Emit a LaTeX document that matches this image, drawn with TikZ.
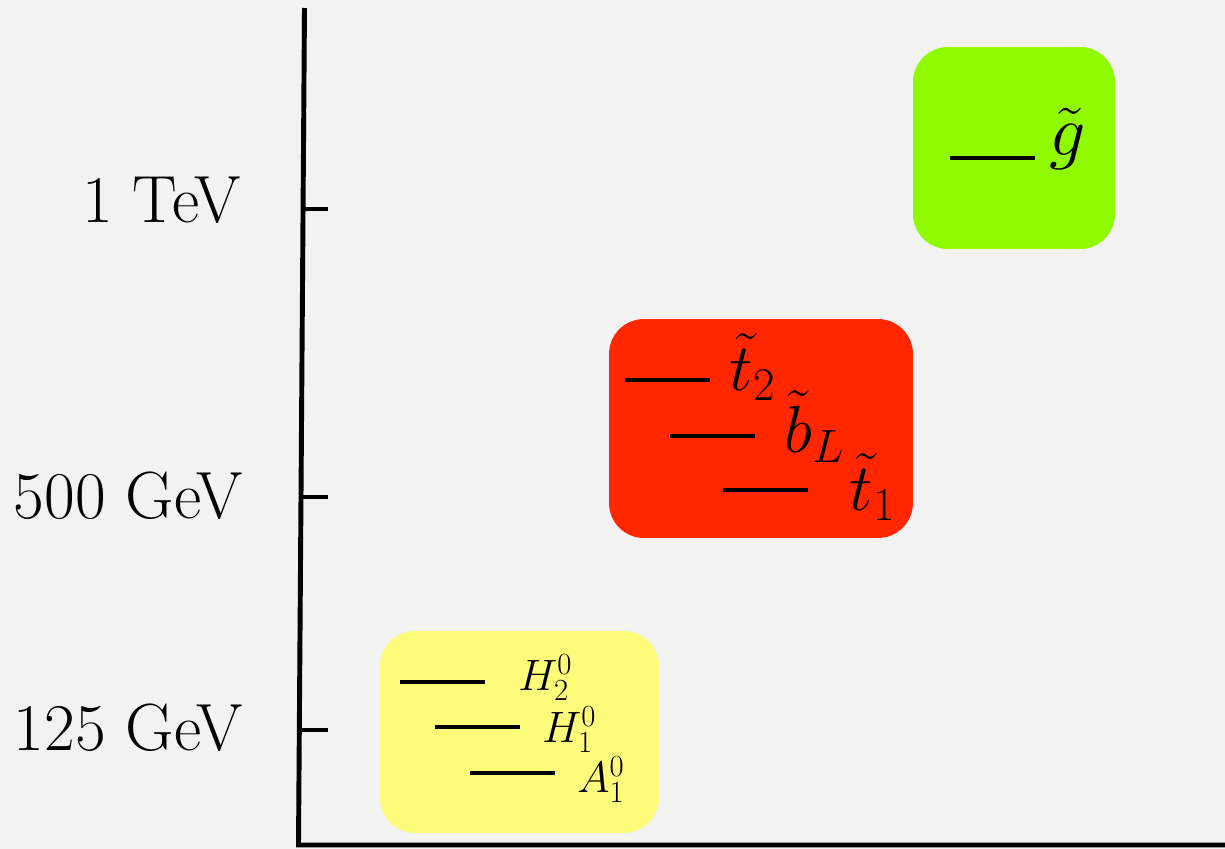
\documentclass[tikz,border=0pt]{standalone}
\usepackage{fix-cm}
\usepackage{tikz}
\usetikzlibrary{positioning}
\definecolor{paper}{RGB}{242,242,242}
\definecolor{gluinogreen}{RGB}{143,250,0}
\definecolor{stopred}{RGB}{255,38,0}
\definecolor{higgsyellow}{RGB}{255,251,122}

\begin{document}
\begin{tikzpicture}[x=0.02cm, y=-0.02cm, line width=2.8pt,
    box/.style={rounded corners=0.7cm, inner sep=0pt},
    lvl/.style={line width=2.8pt},
    mass/.style={anchor=base east, inner sep=0pt, font=\fontsize{38}{42}\selectfont},
    spart/.style={anchor=base west, inner sep=0pt}]
  \fill[paper] (0,0) rectangle (1225,849);
  \useasboundingbox (0,0) rectangle (1225,849);

  % axes
  \coordinate (top) at (304.5,8);
  \coordinate (org) at (298.5,845);
  \coordinate (rgt) at (1225,845);
  \draw (top) -- (org) -- (rgt);

  % ticks and scale
  \coordinate (t1) at (303.1,209);
  \coordinate (t2) at (301.0,497);
  \coordinate (t3) at (299.3,730);
  \draw (t1) -- ++(25,0);
  \draw (t2) -- ++(27,0);
  \draw (t3) -- ++(29,0);
  \node[mass] (tev) at (243,222) {1 TeV};
  \node[mass] (gev5) at (245,518) {500 GeV};
  \node[mass] (gev1) at (245,750) {125 GeV};

  % gluino
  \node[box, fill=gluinogreen, minimum width=4.04cm, minimum height=4.04cm] (gl) at (1014,148) {};
  \draw[lvl] (950,158) -- (1035,158);
  \node[spart, font=\fontsize{41}{45}\selectfont] (glab) at (1047,155) {$\tilde{g}$};

  % third generation squarks
  \node[box, fill=stopred, minimum width=6.08cm, minimum height=4.38cm] (sq) at (761,428.5) {};
  \draw[lvl] (625,380) -- (710,380);
  \draw[lvl] (670,436) -- (755,436);
  \draw[lvl] (723,490) -- (808,490);
  \node[spart, font=\fontsize{38}{42}\selectfont] (st2) at (727,390) {$\tilde{t}_2$};
  \node[spart, font=\fontsize{38}{42}\selectfont] (sbl) at (782,452) {$\tilde{b}_L$};
  \node[spart, font=\fontsize{38}{42}\selectfont] (st1) at (847,510) {$\tilde{t}_1$};

  % higgs sector
  \node[box, fill=higgsyellow, minimum width=5.58cm, minimum height=4.04cm] (hg) at (519.5,732) {};
  \draw[lvl] (400,682) -- (485,682);
  \draw[lvl] (435,727) -- (520,727);
  \draw[lvl] (470,773) -- (555,773);
  \node[spart, font=\fontsize{25}{29}\selectfont] (h2) at (516,690) {$H_2^0$};
  \node[spart, font=\fontsize{25}{29}\selectfont] (h1) at (540,742) {$H_1^0$};
  \node[spart, font=\fontsize{25}{29}\selectfont] (a1) at (575,792) {$A_1^0$};
\end{tikzpicture}
\end{document}
